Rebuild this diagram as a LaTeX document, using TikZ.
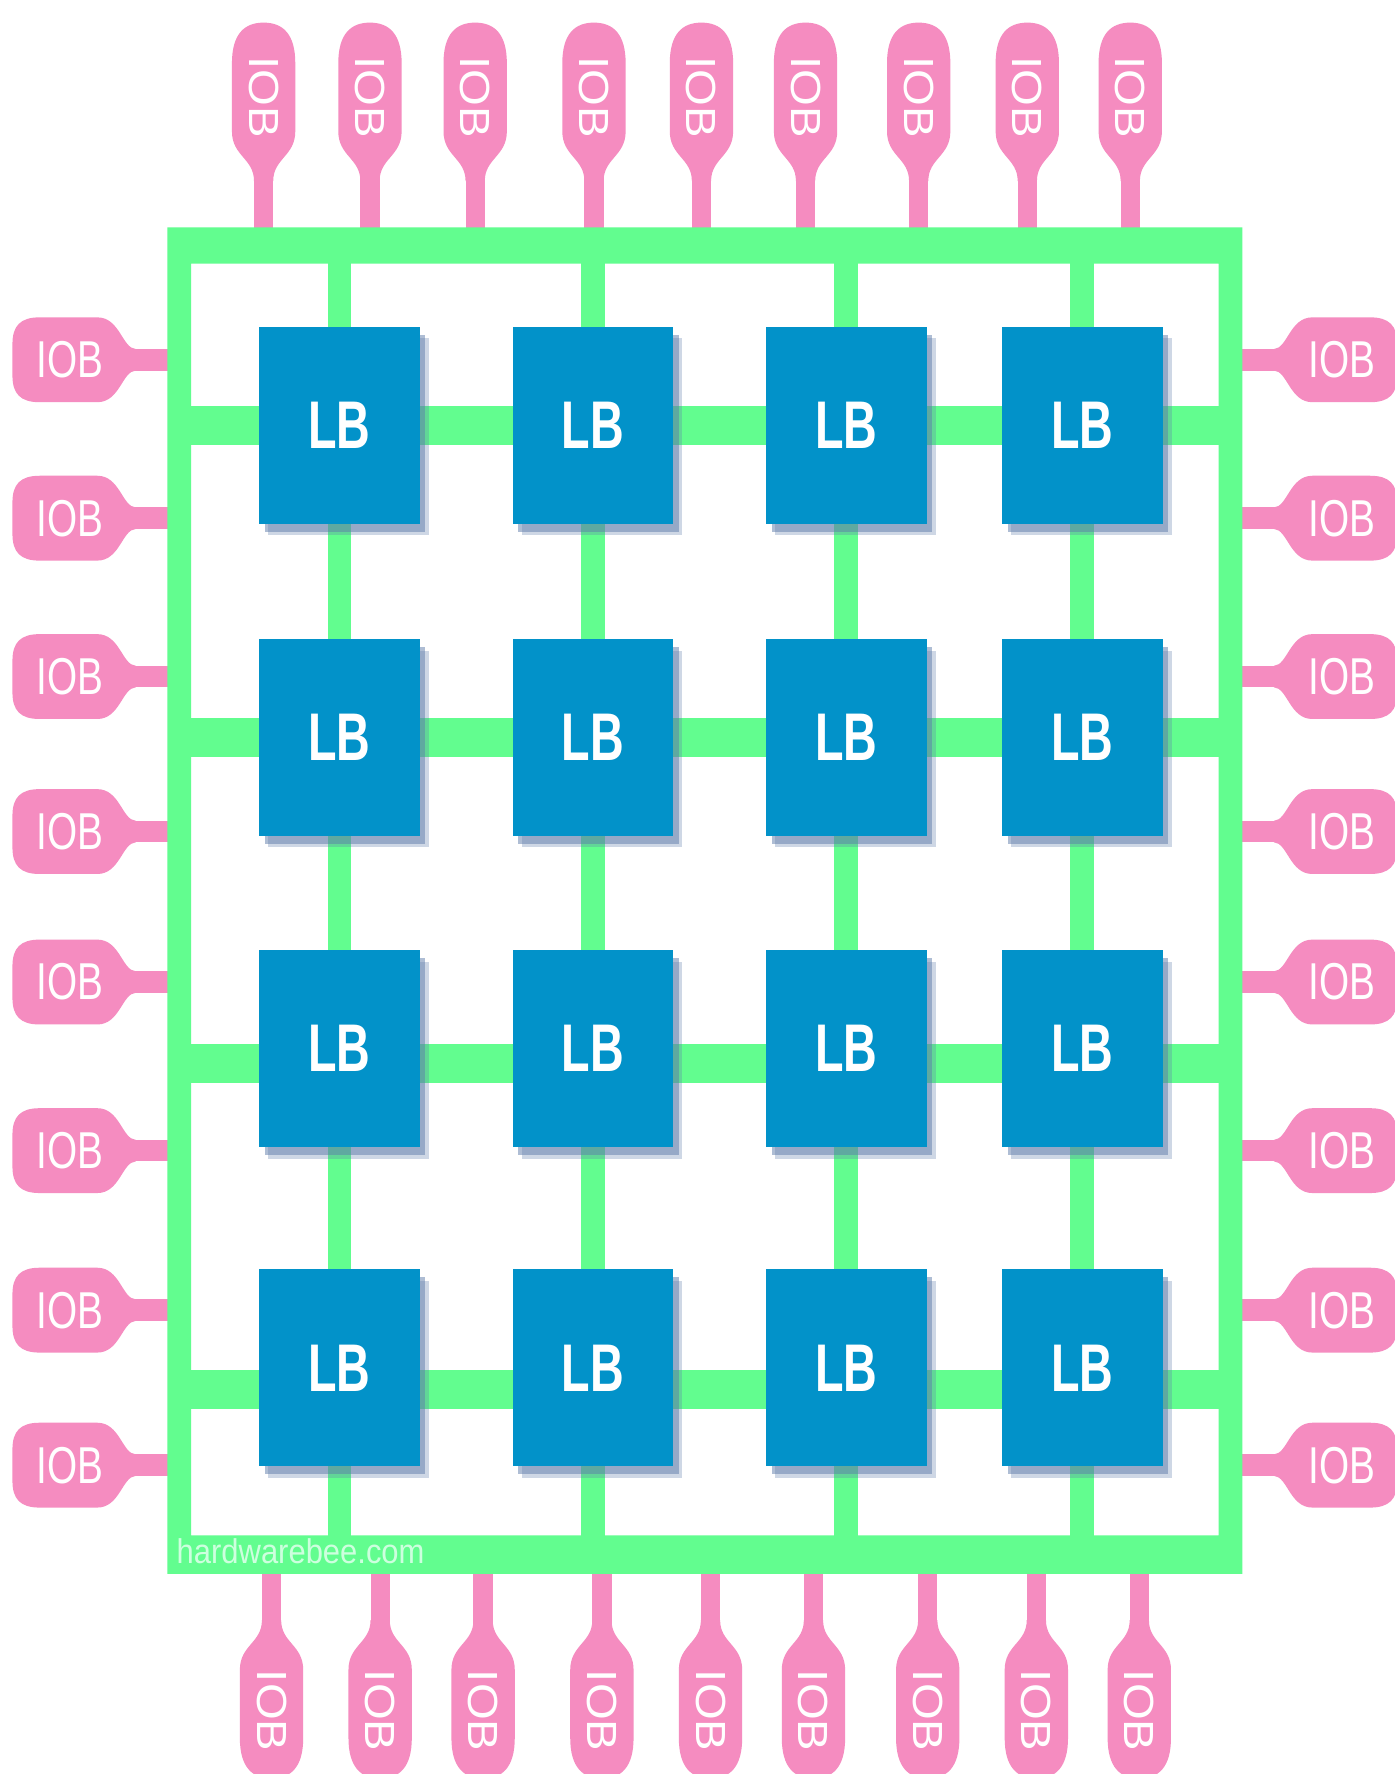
\documentclass[tikz,border=0pt]{standalone}
\usepackage{fontspec}
\setmainfont{Liberation Sans}
\usepackage{graphicx}
\usetikzlibrary{shadows}
\definecolor{fgreen}{RGB}{98,253,143}
\definecolor{fpink}{RGB}{245,140,192}
\definecolor{fblue}{RGB}{2,146,201}
\definecolor{fshadow}{RGB}{95,125,170}
\definecolor{wmark}{RGB}{205,255,222}
\tikzset{
  lbbox/.style={rectangle, fill=fblue, minimum width=142pt, minimum height=174pt, inner sep=0pt, text=white,
    general shadow={shadow xshift=8pt, shadow yshift=-10pt, fill=fshadow, opacity=.3},
    general shadow={shadow xshift=5pt, shadow yshift=-7pt, fill=fshadow, opacity=.5}},
  iobh/.style={inner sep=0pt, text=white},
  iobv/.style={inner sep=0pt, text=white, rotate=-90},
  hstem/.style={fpink, line width=19pt},
  vstem/.style={fpink, line width=17pt},
  vwire/.style={fgreen, line width=21pt},
  hwire/.style={fgreen, line width=34pt},
  wm/.style={inner sep=0pt, text=wmark}
}
\begin{document}
\begin{tikzpicture}[x=1pt,y=-1pt]
\useasboundingbox (0,0) rectangle (1233,1568);
\fill[white] (0,0) rectangle (1233,1568);

% left and right IOBs
\foreach \yc [count=\i] in {318,458,598,735,868,1017,1158,1295}{
  \fill[fpink] (120,{\yc-9.5}) .. controls (108,{\yc-10}) and (106,{\yc-37.5}) .. (86,{\yc-37.5})
    -- (35,{\yc-37.5}) .. controls (18,{\yc-37.5}) and (11,{\yc-30}) .. (11,{\yc-14})
    -- (11,{\yc+14}) .. controls (11,{\yc+30}) and (18,{\yc+37.5}) .. (35,{\yc+37.5})
    -- (86,{\yc+37.5}) .. controls (106,{\yc+37.5}) and (108,{\yc+10}) .. (120,{\yc+9.5}) -- cycle;
  \coordinate (nL\i) at (116,\yc);
  \coordinate (fL\i) at (150,\yc);
  \draw[hstem] (nL\i) -- (fL\i);
  \node[iobh] (iobL\i) at (62,\yc) {\resizebox{59pt}{32pt}{IOB}};
  \fill[fpink] (1126,{\yc-9.5}) .. controls (1138,{\yc-10}) and (1140,{\yc-37.5}) .. (1160,{\yc-37.5})
    -- (1211,{\yc-37.5}) .. controls (1228,{\yc-37.5}) and (1235,{\yc-30}) .. (1235,{\yc-14})
    -- (1235,{\yc+14}) .. controls (1235,{\yc+30}) and (1228,{\yc+37.5}) .. (1211,{\yc+37.5})
    -- (1160,{\yc+37.5}) .. controls (1140,{\yc+37.5}) and (1138,{\yc+10}) .. (1126,{\yc+9.5}) -- cycle;
  \coordinate (nR\i) at (1130,\yc);
  \coordinate (fR\i) at (1096,\yc);
  \draw[hstem] (nR\i) -- (fR\i);
  \node[iobh] (iobR\i) at (1186,\yc) {\resizebox{59pt}{32pt}{IOB}};
}

% top IOBs
\foreach \c [count=\i] in {233,327,420,525,620,712,812,908,999}{
  \fill[fpink] ({\c-8.5},160) .. controls ({\c-8.5},140) and ({\c-28},138) .. ({\c-28},116)
    -- ({\c-28},56) .. controls ({\c-28},30) and ({\c-17},20) .. (\c,20)
    .. controls ({\c+17},20) and ({\c+28},30) .. ({\c+28},56)
    -- ({\c+28},116) .. controls ({\c+28},138) and ({\c+8.5},140) .. ({\c+8.5},160) -- cycle;
  \coordinate (nT\i) at (\c,156);
  \coordinate (fT\i) at (\c,203);
  \draw[vstem] (nT\i) -- (fT\i);
  \node[iobv] (iobT\i) at (\c,86) {\resizebox{72pt}{26pt}{IOB}};
}

% bottom IOBs
\foreach \c [count=\i] in {240,336,427,532,628,719,820,916,1007}{
  \fill[fpink] ({\c-8.5},1432) .. controls ({\c-8.5},1452) and ({\c-28},1454) .. ({\c-28},1476)
    -- ({\c-28},1536) .. controls ({\c-28},1562) and ({\c-17},1572) .. (\c,1572)
    .. controls ({\c+17},1572) and ({\c+28},1562) .. ({\c+28},1536)
    -- ({\c+28},1476) .. controls ({\c+28},1454) and ({\c+8.5},1452) .. ({\c+8.5},1432) -- cycle;
  \coordinate (nB\i) at (\c,1436);
  \coordinate (fB\i) at (\c,1389);
  \draw[vstem] (nB\i) -- (fB\i);
  \node[iobv] (iobB\i) at (\c,1512) {\resizebox{72pt}{26pt}{IOB}};
}

% routing frame
\fill[fgreen, even odd rule] (148,201) rectangle (1098,1391) (169,233) rectangle (1077,1357);

% vertical channels
\foreach \c [count=\j] in {300,524,748,956.5}{
  \coordinate (vt\j) at (\c,232);
  \coordinate (vb\j) at (\c,1358);
  \draw[vwire] (vt\j) -- (vb\j);
}
% horizontal channels
\foreach \yy [count=\j] in {376,652,940,1228}{
  \coordinate (hl\j) at (168,\yy);
  \coordinate (hr\j) at (1078,\yy);
  \draw[hwire] (hl\j) -- (hr\j);
}

% logic blocks
\foreach \c [count=\j] in {300,524,748,956.5}{
  \foreach \r [count=\k] in {376,652,927,1209}{
    \node[lbbox] (lb\k\j) at (\c,\r) {\resizebox{55pt}{41pt}{\bfseries LB}};
  }
}

% watermark
\node[wm, anchor=base west] (wmark) at (156,1382) {\resizebox{219pt}{22pt}{hardwarebee.com}};
\end{tikzpicture}
\end{document}
